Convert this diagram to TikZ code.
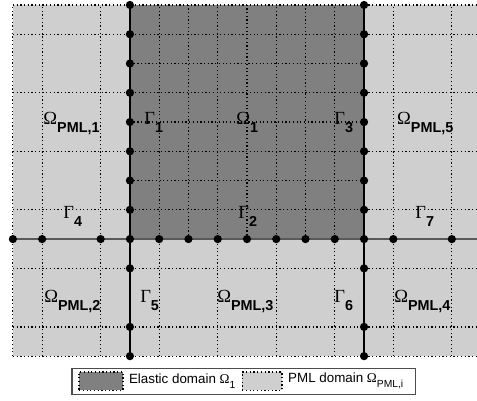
\documentclass[tikz,border=0pt]{standalone}
\usepackage{fontspec}
\setsansfont{Liberation Sans}
\newfontfamily\grk{Liberation Serif}
\usetikzlibrary{positioning}
\tikzset{
	elastic/.style={fill=black!50},
	pml/.style={fill=black!19},
	mesh/.style={black, line width=0.6pt, dash pattern=on 0.6pt off 1.2pt},
	bnd/.style={black, line width=0.9pt},
	iface/.style={black!65, line width=0.9pt},
	pt/.style={circle, fill=black, inner sep=0pt, minimum size=4pt},
	lab/.style={anchor=base west, inner sep=0pt},
	% legend
	legbox/.style={draw=black!70, line width=0.5pt, fill=white, minimum width=5.875cm, minimum height=0.445cm, inner sep=0pt},
	swatch/.style={draw, dash pattern=on 0.6pt off 1.2pt, line width=0.6pt, minimum height=0.31cm, inner sep=0pt},
	legtext/.style={anchor=west, inner sep=0pt, font=\sffamily\fontsize{6.5}{7}\selectfont},
}
\newcommand{\dom}[2]{{\fontsize{9}{9}\selectfont\grk #1}\raisebox{-4pt}{\fontsize{7}{7}\selectfont\sffamily\bfseries #2}}
\newcommand{\legdom}[1]{{\fontsize{6.5}{7}\selectfont\grk Ω}\raisebox{-2.5pt}{\fontsize{5}{5}\selectfont\sffamily #1}}

\begin{document}
\begin{tikzpicture}[x=0.5cm, y=0.5cm]
	\useasboundingbox (-4.44,-5.5) rectangle (11.86,8.17);
	
	% domains
	\fill[pml] (-4,-4) rectangle (11.86,8);
	\fill[elastic] (0,0) rectangle (8,8);
	
	% mesh lines
	\foreach \x in {-4,-3,-1,1,3,5,7,9,11}
		\draw[mesh] (\x,-4) -- (\x,8);
	\foreach \x in {2,4,6}
		\draw[mesh] (\x,0) -- (\x,8);
	\foreach \y in {-4,-3,-1,1,3,5,7,8}
		\draw[mesh] (-4,\y) -- (11.86,\y);
	\foreach \y in {2,4,6}
		\draw[mesh] (0,\y) -- (8,\y);
	
	% interfaces
	\coordinate (w) at (-4,0);
	\coordinate (e) at (11.86,0);
	\coordinate (tl) at (0,8);
	\coordinate (bl) at (0,-4);
	\coordinate (tr) at (8,8);
	\coordinate (br) at (8,-4);
	\draw[iface] (w) -- (e);
	\draw[bnd] (tl) -- (bl);
	\draw[bnd] (tr) -- (br);
	
	% nodes on the interfaces
	\foreach \y in {-4,-3,-1,0,1,2,3,4,5,6,7,8} {
		\node (l\y) [pt] at (0,\y) {};
		\node (r\y) [pt] at (8,\y) {};
	}
	\foreach \x in {-4,-3,-1,1,2,3,4,5,6,7,9,11}
		\node (h\x) [pt] at (\x,0) {};
	
	% labels
	\node (pml1) [lab] at (-2.97,3.93) {\dom{Ω}{PML,1}};
	\node (gam1) [lab] at (0.48,3.93) {\dom{Γ}{1}};
	\node (om1) [lab] at (3.62,3.93) {\dom{Ω}{1}};
	\node (gam3) [lab] at (6.97,3.93) {\dom{Γ}{3}};
	\node (pml5) [lab] at (9.12,3.93) {\dom{Ω}{PML,5}};
	
	\node (gam4) [lab] at (-2.29,0.72) {\dom{Γ}{4}};
	\node (gam2) [lab] at (3.69,0.70) {\dom{Γ}{2}};
	\node (gam7) [lab] at (9.74,0.72) {\dom{Γ}{7}};
	
	\node (pml2) [lab] at (-2.94,-2.15) {\dom{Ω}{PML,2}};
	\node (gam5) [lab] at (0.34,-2.15) {\dom{Γ}{5}};
	\node (pml3) [lab] at (2.97,-2.15) {\dom{Ω}{PML,3}};
	\node (gam6) [lab] at (6.97,-2.15) {\dom{Γ}{6}};
	\node (pml4) [lab] at (9.02,-2.15) {\dom{Ω}{PML,4}};
	
	% legend
	\node (legend) [legbox] at (3.895,-4.855) {};
	\node (swel) [swatch, elastic, minimum width=0.75cm, right=0.12cm of legend.west] {};
	\node (txel) [legtext, right=0.085cm of swel.east] {Elastic domain \legdom{1}};
	\node (swpml) [swatch, pml, minimum width=0.68cm, right=2.905cm of legend.west] {};
	\node (txpml) [legtext, right=0.09cm of swpml.east] {PML domain \legdom{PML,i}};
\end{tikzpicture}
\end{document}
